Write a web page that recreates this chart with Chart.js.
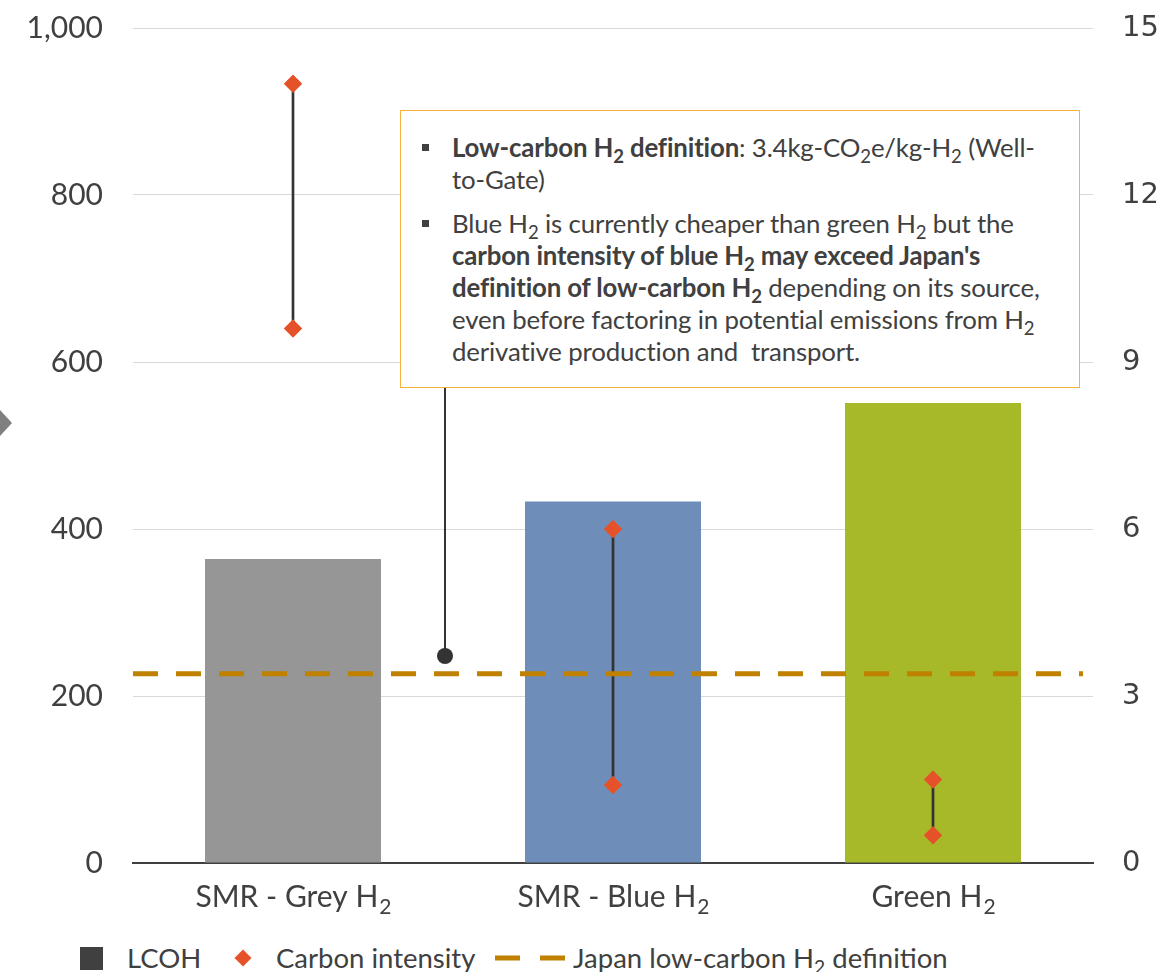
<!DOCTYPE html>
<html>
<head>
<meta charset="utf-8">
<script src="https://cdn.jsdelivr.net/npm/chart.js@4.4.0/dist/chart.umd.min.js"></script>
<style>
  html, body { margin: 0; padding: 0; background: #fff; }
  #wrap { position: relative; width: 1163px; height: 972px; font-family: Lato, sans-serif; color: #404040; overflow: hidden; }
  #chartBox { position: absolute; left: 0; top: -20px; width: 1163px; height: 950px; }
  .note {
    position: absolute; left: 400px; top: 110px; width: 680px; height: 278px;
    box-sizing: border-box; border: 1.5px solid #F7B23B; background: #fff;
    padding: 20px 0 0 21px; font-size: 25.8px; line-height: 32px; color: #404040; white-space: nowrap;
  }
  .note ul { margin: 0; padding: 0; list-style: none; }
  .note li { position: relative; padding-left: 30px; margin-bottom: 12px; letter-spacing: -0.15px; }
  .note li::before { content: ''; position: absolute; left: 0; top: 13px; width: 7px; height: 7px; background: #404040; }
  .note sub { font-size: 0.72em; vertical-align: -0.3em; line-height: 0; }
  .arrow { position: absolute; left: 0; top: 410px; width: 0; height: 0;
    border-top: 13px solid transparent; border-bottom: 13px solid transparent; border-left: 12px solid #7f7f7f; }
  .legend { position: absolute; left: 0; top: 940px; width: 1163px; height: 32px; font-size: 27.5px; color: #404040; }
  .legend > * { position: absolute; }
  .legend .txt { top: 0; line-height: 36px; white-space: nowrap; }
  .legend sub { font-size: 0.7em; vertical-align: -0.3em; line-height: 0; }
</style>
</head>
<body>
<div id="wrap">
  <div id="chartBox"><canvas id="chart" width="1163" height="950"></canvas></div>
  <div class="arrow"></div>
  <div class="note">
    <ul>
      <li><b>Low-carbon H<sub>2</sub> definition</b>: 3.4kg-CO<sub>2</sub>e/kg-H<sub>2</sub> (Well-<br>to-Gate)</li>
      <li>Blue H<sub>2</sub> is currently cheaper than green H<sub>2</sub> but the<br><b>carbon intensity of blue H<sub>2</sub> may exceed Japan's<br>definition of low-carbon H<sub>2</sub></b> depending on its source,<br>even before factoring in potential emissions from H<sub>2</sub><br>derivative production and &nbsp;transport.</li>
    </ul>
  </div>
  <div class="legend">
    <span style="left:80px;top:7px;width:23px;height:23px;background:#404040"></span>
    <span class="txt" style="left:127px">LCOH</span>
    <span style="left:237px;top:12px;width:12px;height:12px;background:#E5522A;transform:rotate(45deg)"></span>
    <span class="txt" style="left:276px">Carbon intensity</span>
    <svg style="left:495px;top:14px" width="70" height="8"><line x1="0" y1="4" x2="70" y2="4" stroke="#C08000" stroke-width="5" stroke-dasharray="25,20"/></svg>
    <span class="txt" style="left:573px">Japan low-carbon H<sub>2</sub> definition</span>
  </div>
</div>
<script>
// chart values
const categories = ['SMR - Grey H₂', 'SMR - Blue H₂', 'Green H₂'];
const lcoh = [364, 433, 551];
const barColors = ['#969696', '#6E8DB9', '#A7B929'];
const ciMin = [9.6, 1.4, 0.5];
const ciMax = [14.0, 6.0, 1.5];
const japanDef = 3.4;
const leftTicks = [0, 200, 400, 600, 800, 1000];
const rightTicks = [0, 3, 6, 9, 12, 15];

// dashed Japan definition line, category labels with subscript, annotation pointer
const extrasPlugin = {
  id: 'extras',
  afterDatasetsDraw(chart) {
    const ctx = chart.ctx;
    const area = chart.chartArea;
    const y = chart.scales.y1.getPixelForValue(japanDef);
    ctx.save();
    ctx.strokeStyle = '#C08000';
    ctx.lineWidth = 5;
    ctx.setLineDash([25, 18]);
    ctx.beginPath();
    ctx.moveTo(area.left, y);
    ctx.lineTo(area.right - 10, y);
    ctx.stroke();
    ctx.restore();

    // redraw diamonds on top of the dashed line
    chart.getSortedVisibleDatasetMetas().forEach(meta => {
      if (meta.type === 'line') meta.controller.draw();
    });
  },
  afterDraw(chart) {
    const ctx = chart.ctx;
    const x = chart.scales.x;
    const baseY = chart.chartArea.bottom + 34;
    ctx.save();
    ctx.fillStyle = '#404040';
    ctx.textBaseline = 'middle';
    categories.forEach((label, i) => {
      const main = label.replace('₂', '');
      ctx.font = '30px Lato';
      const w1 = ctx.measureText(main).width;
      ctx.font = '21px Lato';
      const w2 = ctx.measureText('2').width;
      const cx = x.getPixelForValue(i);
      const left = cx - (w1 + w2) / 2;
      ctx.font = '30px Lato';
      ctx.textAlign = 'left';
      ctx.fillText(main, left, baseY);
      ctx.font = '21px Lato';
      ctx.fillText('2', left + w1 + 1, baseY + 10);
    });
    // annotation pointer (canvas sits 20px above the page top)
    ctx.strokeStyle = '#333';
    ctx.lineWidth = 2;
    ctx.beginPath();
    ctx.moveTo(445, 406);
    ctx.lineTo(445, 676);
    ctx.stroke();
    ctx.fillStyle = '#333';
    ctx.beginPath();
    ctx.arc(445, 676, 8, 0, Math.PI * 2);
    ctx.fill();
    ctx.restore();
  }
};

new Chart(document.getElementById('chart'), {
  data: {
    labels: categories,
    datasets: [
      {
        type: 'line', label: 'Carbon intensity max', data: ciMax, yAxisID: 'y1',
        showLine: false, pointStyle: 'rectRot', pointRadius: 9, pointBorderWidth: 0,
        pointBackgroundColor: '#E5522A', order: 1
      },
      {
        type: 'line', label: 'Carbon intensity min', data: ciMin, yAxisID: 'y1',
        showLine: false, pointStyle: 'rectRot', pointRadius: 9, pointBorderWidth: 0,
        pointBackgroundColor: '#E5522A', order: 1
      },
      {
        type: 'bar', label: 'Range', data: ciMin.map((v, i) => [v, ciMax[i]]), yAxisID: 'y1',
        backgroundColor: '#333', barThickness: 2, grouped: false, order: 2
      },
      {
        type: 'bar', label: 'LCOH', data: lcoh, yAxisID: 'y',
        backgroundColor: barColors, barPercentage: 0.55, categoryPercentage: 1,
        grouped: false, order: 3
      }
    ]
  },
  options: {
    responsive: false,
    animation: false,
    maintainAspectRatio: false,
    layout: { padding: { top: 7, left: 0, right: 0, bottom: 0 } },
    plugins: { legend: { display: false }, tooltip: { enabled: false } },
    scales: {
      x: {
        grid: { display: false },
        border: { display: true, color: '#404040', width: 2 },
        ticks: { display: false },
        afterFit: (s) => { s.height = 950 - 883; }
      },
      y: {
        position: 'left', min: 0, max: 1000,
        afterBuildTicks: (s) => { s.ticks = leftTicks.map(v => ({ value: v })); },
        grid: { color: '#d9d9d9', lineWidth: 1, drawTicks: false },
        border: { display: false },
        ticks: {
          padding: 30, color: '#404040', font: { family: 'Lato', size: 30 },
          callback: (v) => v.toLocaleString('en-US')
        },
        afterFit: (s) => { s.width = 133; }
      },
      y1: {
        position: 'right', min: 0, max: 15,
        afterBuildTicks: (s) => { s.ticks = rightTicks.map(v => ({ value: v })); },
        grid: { display: false, drawTicks: false },
        border: { display: false },
        ticks: { padding: 29, color: '#404040', font: { family: 'DejaVu Sans', size: 29 } },
        afterFit: (s) => { s.width = 1163 - 1093; }
      }
    }
  },
  plugins: [extrasPlugin]
});
</script>
</body>
</html>
